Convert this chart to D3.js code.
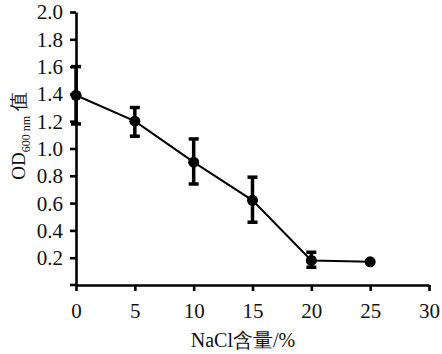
<!DOCTYPE html>
<html><head><meta charset="utf-8">
<script src="https://cdn.jsdelivr.net/npm/d3@7"></script>
<style>body{margin:0;background:#fff}svg{display:block}</style>
</head><body>
<svg id="c" width="442" height="354"></svg>
<script>
const nacl = [0, 5, 10, 15, 20, 25];
const od = [1.39, 1.20, 0.90, 0.62, 0.18, 0.17];
const errLow = [1.18, 1.09, 0.74, 0.46, 0.13, 0.16];
const errHigh = [1.60, 1.30, 1.07, 0.79, 0.24, 0.18];
const xTicks = [0, 5, 10, 15, 20, 25, 30];
const yTicks = [0.2, 0.4, 0.6, 0.8, 1.0, 1.2, 1.4, 1.6, 1.8, 2.0];

const svg = d3.select("#c");
const font = "'Liberation Serif','Times New Roman',serif";
const x = d3.scaleLinear().domain([0, 30]).range([76, 429]);
const y = d3.scaleLinear().domain([0, 2.0]).range([285, 12]);

// axes
const xa = svg.append("g").attr("transform", "translate(0,285)")
  .call(d3.axisBottom(x).tickValues(xTicks).tickSize(6).tickSizeOuter(0).tickFormat(d3.format("d")));
const ya = svg.append("g").attr("transform", "translate(76,0)")
  .call(d3.axisLeft(y).tickValues(yTicks).tickSize(6).tickSizeOuter(0).tickFormat(d3.format(".1f")));
[xa, ya].forEach(g => {
  g.select(".domain").attr("stroke", "#000").attr("stroke-width", 2.6);
  g.selectAll(".tick line").attr("stroke", "#000").attr("stroke-width", 2.6);
  g.selectAll("text").attr("font-family", font).attr("font-size", 21).attr("fill", "#111");
});
xa.selectAll("text").attr("y", 0).attr("dy", 0).attr("transform", "translate(0,33)");
ya.selectAll("text").attr("x", -13).attr("dy", "0.33em");
// extend x axis slightly left of y axis
svg.append("line").attr("x1", 70).attr("x2", 76).attr("y1", 285).attr("y2", 285)
  .attr("stroke", "#000").attr("stroke-width", 2.6);

// line
svg.append("path").datum(nacl.map((d, i) => [d, od[i]]))
  .attr("fill", "none").attr("stroke", "#000").attr("stroke-width", 2)
  .attr("d", d3.line().x(d => x(d[0])).y(d => y(d[1])));

// error bars
const eb = svg.append("g").attr("stroke", "#000").attr("stroke-width", 3.5);
nacl.forEach((d, i) => {
  if (errHigh[i] - errLow[i] < 0.05) return;
  eb.append("line").attr("x1", x(d)).attr("x2", x(d)).attr("y1", y(errLow[i])).attr("y2", y(errHigh[i]));
  [errLow[i], errHigh[i]].forEach(v => {
    eb.append("line").attr("x1", x(d) - 5).attr("x2", x(d) + 5).attr("y1", y(v)).attr("y2", y(v));
  });
});

// markers
svg.append("g").selectAll("circle").data(nacl).join("circle")
  .attr("cx", d => x(d)).attr("cy", (d, i) => y(od[i])).attr("r", 5.5).attr("fill", "#000");

// x label
svg.append("text").attr("x", 243).attr("y", 347).attr("text-anchor", "middle")
  .attr("font-family", font).attr("font-size", 20).attr("fill", "#111")
  .text("NaCl含量/%");

// y label
const yl = svg.append("text").attr("transform", "translate(25,136) rotate(-90)")
  .attr("text-anchor", "middle").attr("font-family", font).attr("font-size", 19).attr("fill", "#111");
yl.append("tspan").text("OD");
yl.append("tspan").attr("font-size", 12).attr("dy", 5).text("600 nm");
yl.append("tspan").attr("dy", -5).text(" 值");
</script>
</body></html>
